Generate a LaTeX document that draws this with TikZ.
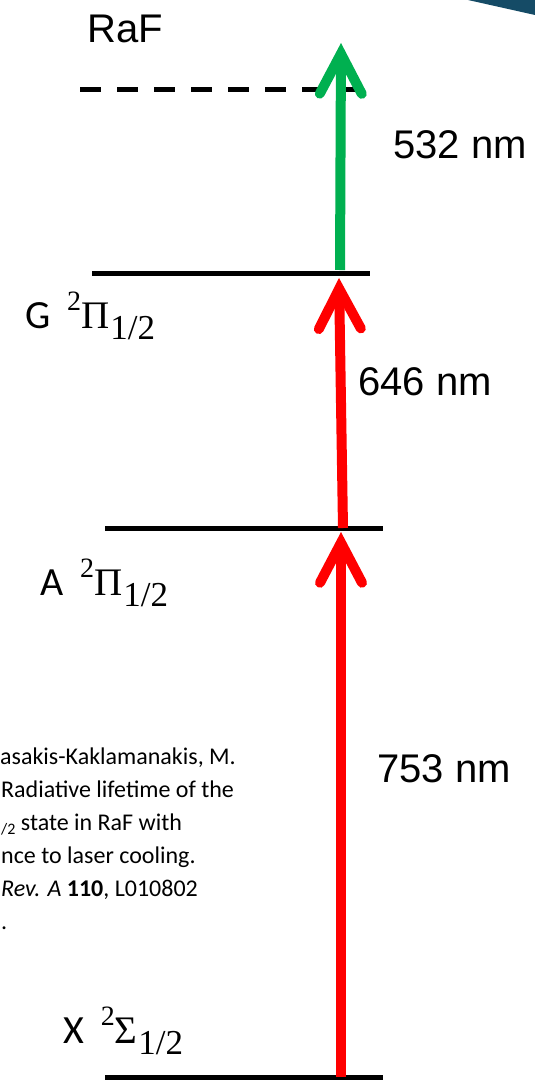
\documentclass[tikz,border=0pt]{standalone}
\usepackage{fontspec}
\setmainfont{Liberation Sans}
\newfontfamily\calib{Carlito}
\newfontfamily\mathlike{Liberation Serif}
\usetikzlibrary{arrows.meta}
\definecolor{pptred}{RGB}{255,0,0}
\definecolor{pptgreen}{RGB}{0,176,80}
\definecolor{slideteal}{RGB}{21,75,102}
\newcommand{\termsym}[1]{{\mathlike\raisebox{18pt}{\fontsize{28}{28}\selectfont 2}\fontsize{39}{39}\selectfont#1\kern1pt\raisebox{-11pt}{\fontsize{35}{35}\selectfont 1/2}}}
\begin{document}
\begin{tikzpicture}[x=1pt,y=-1pt,
  level/.style={line width=5pt, black},
  virtual/.style={line width=5pt, black, dash pattern=on 21pt off 16pt},
  transition/.style={line width=10pt, -{Straight Barb[length=40pt,width=42pt,line cap=round]}},
  wavelabel/.style={anchor=base west, inner sep=0pt, font=\fontsize{40}{48}\selectfont},
  statelabel/.style={anchor=base west, inner sep=0pt, font=\calib\fontsize{40}{48}\selectfont},
  citation/.style={anchor=base west, inner sep=0pt, font=\calib\fontsize{24}{29}\selectfont}]
\useasboundingbox (0,0) rectangle (535,1081);
% slide decoration
\fill[slideteal] (468,0) -- (535,0) -- (535,15) -- cycle;
% level coordinates
\coordinate (vL) at (80,89);   \coordinate (vR) at (362,89);
\coordinate (gL) at (92,273);  \coordinate (gR) at (370,273);
\coordinate (aL) at (105,528); \coordinate (aR) at (383,528);
\coordinate (xL) at (105,1077);\coordinate (xR) at (383,1077);
% levels
\draw[virtual] (vL) -- (vR);
\draw[level] (gL) -- (gR);
\draw[level] (aL) -- (aR);
\draw[level] (xL) -- (xR);
% transition coordinates
\coordinate (t532s) at (340,270); \coordinate (t532e) at (341,43);
\coordinate (t646s) at (343,528); \coordinate (t646e) at (339,278);
\coordinate (t753s) at (341,1077); \coordinate (t753e) at (341,532);
\draw[transition, pptgreen] (t532s) -- (t532e);
\draw[transition, pptred] (t646s) -- (t646e);
\draw[transition, pptred] (t753s) -- (t753e);
% labels
\node[wavelabel] (raf) at (87,43) {RaF};
\node[wavelabel] (l532) at (393,158) {532 nm};
\node[wavelabel] (l646) at (358,395) {646 nm};
\node[wavelabel] (l753) at (377,782) {753 nm};
\node[statelabel] (gs) at (25,328) {G\hspace{0.42em}\termsym{Π}};
\node[statelabel] (as) at (40,595) {A\hspace{0.42em}\termsym{Π}};
\node[statelabel] (xs) at (63,1043) {X\hspace{0.42em}\termsym{Σ}};
% citation (cropped at the left edge)
\node[citation] (c1) at (0,764) {asakis-Kaklamanakis, M.};
\node[citation] (c2) at (1,797) {Radiative lifetime of the};
\node[citation] (c3) at (1,830) {{\fontsize{16}{16}\selectfont\raisebox{-4pt}{/2}} state in RaF with};
\node[citation] (c4) at (1,863) {nce to laser cooling.};
\node[citation] (c5) at (1,896) {\textit{Rev. A} \textbf{110}, L010802};
\node[citation] (c6) at (1,929) {.};
\end{tikzpicture}
\end{document}
